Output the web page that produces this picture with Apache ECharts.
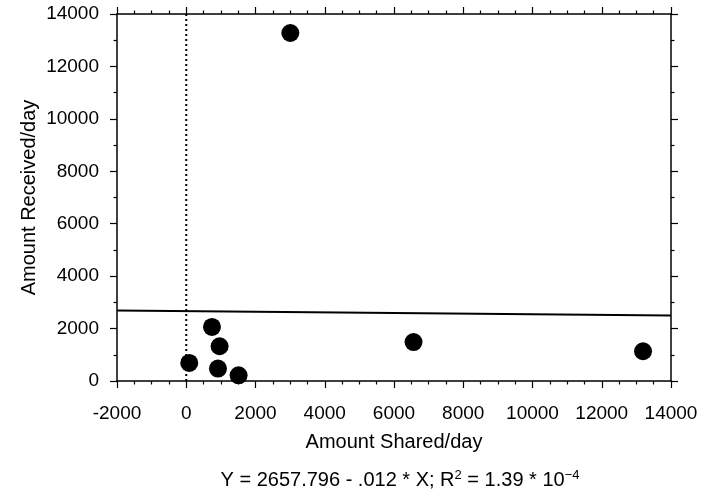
<!DOCTYPE html>
<html>
<head>
<meta charset="utf-8">
<script src="https://cdn.jsdelivr.net/npm/echarts@6/dist/echarts.min.js"></script>
<style>
html,body{margin:0;padding:0;background:#fff;}
#chart{width:703px;height:496px;}
</style>
</head>
<body>
<div id="chart"></div>
<script>
// Data
const amountShared = [3006, 743, 963, 87, 916, 1512, 6564, 13193];
const amountReceived = [13275, 2063, 1326, 688, 474, 218, 1484, 1135];
const fitLineX = [-2000, 14000];
const fitLineY = [2690, 2500];
const xTicks = [-2000, 0, 2000, 4000, 6000, 8000, 10000, 12000, 14000];
const yTicks = [0, 2000, 4000, 6000, 8000, 10000, 12000, 14000];
const zeroLineY = [0, 14000];

const chart = echarts.init(document.getElementById('chart'));
const FONT = 'Liberation Sans';
const black = '#000';
const plain = v => String(v);

const baseAxis = {
  axisLine: {show: true, onZero: false, lineStyle: {color: black, width: 1.5}},
  axisTick: {show: true, inside: false, length: 7, lineStyle: {color: black, width: 1.2}},
  minorTick: {show: true, length: 3.5, lineStyle: {color: black, width: 1.2}},
  splitLine: {show: false},
  minorSplitLine: {show: false}
};

const option = {
  backgroundColor: '#fff',
  animation: false,
  grid: {left: 117, right: 32, top: 14, bottom: 115, containLabel: false},
  xAxis: [
    Object.assign({}, baseAxis, {
      type: 'value', position: 'bottom',
      min: xTicks[0], max: xTicks[xTicks.length - 1], interval: 2000,
      minorTick: Object.assign({}, baseAxis.minorTick, {splitNumber: 4}),
      axisLabel: {color: black, fontFamily: FONT, fontSize: 19, margin: 23, formatter: plain},
      name: 'Amount Shared/day', nameLocation: 'middle', nameGap: 51,
      nameMoveOverlap: false,
      nameTextStyle: {color: black, fontFamily: FONT, fontSize: 20}
    }),
    Object.assign({}, baseAxis, {
      type: 'value', position: 'top',
      min: xTicks[0], max: xTicks[xTicks.length - 1], interval: 2000,
      minorTick: Object.assign({}, baseAxis.minorTick, {splitNumber: 4}),
      axisLabel: {show: false}
    })
  ],
  yAxis: [
    Object.assign({}, baseAxis, {
      type: 'value', position: 'left',
      min: yTicks[0], max: yTicks[yTicks.length - 1], interval: 2000,
      minorTick: Object.assign({}, baseAxis.minorTick, {splitNumber: 2}),
      axisLabel: {color: black, fontFamily: FONT, fontSize: 19, margin: 18, formatter: plain},
      name: 'Amount Received/day', nameLocation: 'middle', nameGap: 78,
      nameMoveOverlap: false,
      nameTextStyle: {color: black, fontFamily: FONT, fontSize: 20}
    }),
    Object.assign({}, baseAxis, {
      type: 'value', position: 'right',
      min: yTicks[0], max: yTicks[yTicks.length - 1], interval: 2000,
      minorTick: Object.assign({}, baseAxis.minorTick, {splitNumber: 2}),
      axisLabel: {show: false}
    })
  ],
  series: [
    {
      type: 'line', xAxisIndex: 0, yAxisIndex: 0,
      data: zeroLineY.map(v => [0, v]),
      symbol: 'none', silent: true,
      lineStyle: {color: black, width: 2, type: [2, 3]}
    },
    {
      type: 'line', xAxisIndex: 0, yAxisIndex: 0,
      data: fitLineX.map((x, i) => [x, fitLineY[i]]),
      symbol: 'none', silent: true,
      lineStyle: {color: black, width: 2}
    },
    {
      type: 'scatter', xAxisIndex: 0, yAxisIndex: 0,
      data: amountShared.map((x, i) => [x, amountReceived[i]]),
      symbol: 'circle', symbolSize: 18,
      itemStyle: {color: black, opacity: 1}
    }
  ],
  graphic: [
    {
      type: 'text', x: 400, y: 477,
      style: {
        text: '{n|Y = 2657.796 - .012 * X; R}{s|2}{n| = 1.39 * 10}{s|−4}',
        align: 'center', verticalAlign: 'middle',
        rich: {
          n: {fontFamily: FONT, fontSize: 20, fill: black, verticalAlign: 'bottom', lineHeight: 26},
          s: {fontFamily: FONT, fontSize: 13, fill: black, verticalAlign: 'bottom', lineHeight: 26, padding: [0, 0, 8, 0]}
        }
      }
    }
  ]
};
chart.setOption(option);
</script>
</body>
</html>
